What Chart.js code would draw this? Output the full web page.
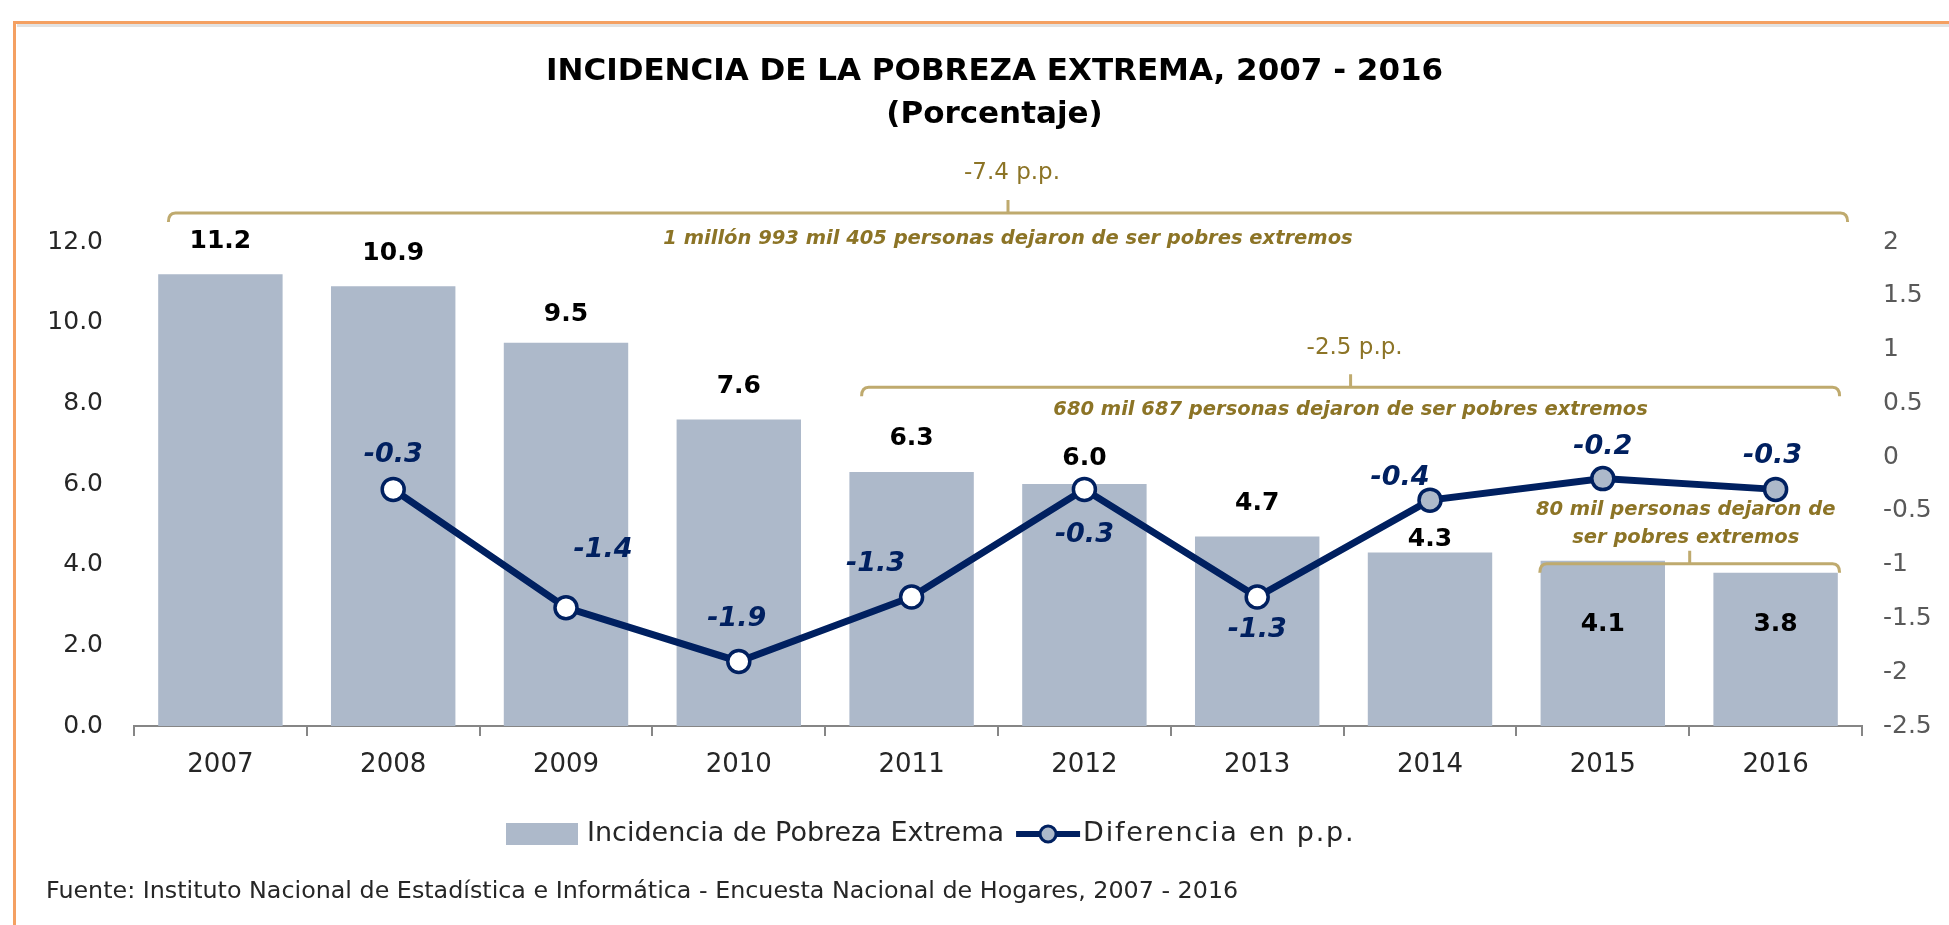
<!DOCTYPE html>
<html>
<head>
<meta charset="utf-8">
<script src="https://cdn.jsdelivr.net/npm/chart.js@4.4.1/dist/chart.umd.min.js"></script>
<style>
  body { margin: 0; background: #fff; }
  canvas { display: block; }
</style>
</head>
<body>
<canvas id="chart" width="1949" height="925"></canvas>
<script>
// data
const years = ['2007', '2008', '2009', '2010', '2011', '2012', '2013', '2014', '2015', '2016'];
const incidence = [11.2, 10.9, 9.5, 7.6, 6.3, 6.0, 4.7, 4.3, 4.1, 3.8];
const difference = [null, -0.3, -1.4, -1.9, -1.3, -0.3, -1.3, -0.4, -0.2, -0.3];
const leftTicks = [0, 2, 4, 6, 8, 10, 12];
const rightTicks = [-2.5, -2, -1.5, -1, -0.5, 0, 0.5, 1, 1.5, 2];
const spanLabels = ['-7.4 p.p.', '-2.5 p.p.'];
const spanNotes = [
    ['1 millón 993 mil 405 personas dejaron de ser pobres extremos'],
    ['680 mil 687 personas dejaron de ser pobres extremos'],
    ['80 mil personas dejaron de', 'ser pobres extremos']
];

const FONT = "'DejaVu Sans', sans-serif";
const BAR = '#ADB9CA';
const NAVY = '#002060';
const GOLD = '#8C7426';
const BRACE = '#BFAA6E';

// where the value labels sit relative to their mark (px)
const barLabelDy = [-33, -33, -28, -33, -33, -26, -33, -13, 64, 52];
const lineLabelOff = [[0, 0], [0, -34], [37, -58], [-2, -42], [-36, -33], [0, 46], [0, 33], [-30, -22], [0, -32], [-3, -33]];

// braces: category span, px overhang on each side, height on the left scale
const braces = [
    { from: 0, to: 9, dl: -52, dr: 72, y: 12.72, labelY: 13.71, noteY: [12.07] },
    { from: 4, to: 9, dl: -50, dr: 64, y: 8.4, labelY: 9.37, noteY: [7.84] },
    { from: 8, to: 9, dl: -63, dr: 64, y: 4.02, labelY: null, noteY: [5.36, 4.66] }
];

function drawBrace(ctx, x1, x2, y) {
    const mid = (x1 + x2) / 2;
    ctx.save();
    ctx.strokeStyle = BRACE;
    ctx.lineWidth = 3;
    ctx.beginPath();
    ctx.moveTo(x1, y + 9);
    ctx.quadraticCurveTo(x1, y, x1 + 7, y);
    ctx.lineTo(x2 - 7, y);
    ctx.quadraticCurveTo(x2, y, x2, y + 9);
    ctx.moveTo(mid, y);
    ctx.lineTo(mid, y - 13);
    ctx.stroke();
    ctx.restore();
}

const extras = {
    id: 'extras',
    afterDatasetsDraw(chart) {
        const ctx = chart.ctx;
        const x = chart.scales.x;
        const y = chart.scales.y;

        // bar values
        const bars = chart.getDatasetMeta(1).data;
        ctx.save();
        ctx.font = 'bold 25px ' + FONT;
        ctx.fillStyle = '#000';
        ctx.textAlign = 'center';
        ctx.textBaseline = 'middle';
        bars.forEach((b, i) => {
            ctx.fillText(incidence[i].toFixed(1), b.x, b.y + barLabelDy[i]);
        });

        // line values
        const pts = chart.getDatasetMeta(0).data;
        ctx.font = 'italic bold 27px ' + FONT;
        ctx.fillStyle = NAVY;
        pts.forEach((p, i) => {
            if (difference[i] === null) return;
            const o = lineLabelOff[i];
            ctx.fillText(difference[i].toFixed(1), p.x + o[0], p.y + o[1]);
        });

        // braces and their notes
        braces.forEach((br, k) => {
            const x1 = x.getPixelForValue(br.from) + br.dl;
            const x2 = x.getPixelForValue(br.to) + br.dr;
            const mid = (x1 + x2) / 2;
            drawBrace(ctx, x1, x2, y.getPixelForValue(br.y));
            ctx.fillStyle = GOLD;
            if (br.labelY !== null) {
                ctx.font = '23px ' + FONT;
                ctx.fillText(spanLabels[k], mid + 4, y.getPixelForValue(br.labelY));
            }
            ctx.font = 'italic bold 19.5px ' + FONT;
            spanNotes[k].forEach((line, j) => {
                ctx.fillText(line, mid - 4 * (k === 2), y.getPixelForValue(br.noteY[j]));
            });
        });
        ctx.restore();
    },
    afterDraw(chart) {
        const ctx = chart.ctx;
        ctx.save();
        // frame
        ctx.fillStyle = '#E2E2E2';
        ctx.fillRect(17, 24, 1932, 3);
        ctx.fillStyle = '#F4A062';
        ctx.fillRect(13, 21, 1936, 3);
        ctx.fillRect(13, 21, 3, 904);

        // legend
        ctx.textBaseline = 'middle';
        ctx.textAlign = 'left';
        ctx.font = '27px ' + FONT;
        ctx.fillStyle = BAR;
        ctx.fillRect(506, 823, 72, 22);
        ctx.fillStyle = '#262626';
        const t1 = chart.data.datasets[1].label;
        ctx.fillText(t1, 587, 834);
        const lx = 587 + ctx.measureText(t1).width + 12;
        ctx.strokeStyle = NAVY;
        ctx.lineWidth = 6;
        ctx.beginPath();
        ctx.moveTo(lx, 834);
        ctx.lineTo(lx + 64, 834);
        ctx.stroke();
        ctx.beginPath();
        ctx.arc(lx + 32, 834, 8, 0, Math.PI * 2);
        ctx.fillStyle = BAR;
        ctx.fill();
        ctx.lineWidth = 3;
        ctx.stroke();
        ctx.fillStyle = '#262626';
        ctx.letterSpacing = '1.8px';
        ctx.fillText(chart.data.datasets[0].label, lx + 67, 834);
        ctx.letterSpacing = '0px';

        // source
        ctx.font = '23.8px ' + FONT;
        ctx.fillText('Fuente: Instituto Nacional de Estadística e Informática - Encuesta Nacional de Hogares, 2007 - 2016', 46, 892);
        ctx.restore();
    }
};

const pointFill = difference.map((v, i) => i >= 7 ? BAR : '#FFFFFF');

new Chart(document.getElementById('chart'), {
    type: 'bar',
    data: {
        labels: years,
        datasets: [{
            type: 'line',
            label: 'Diferencia en p.p.',
            data: difference,
            yAxisID: 'y1',
            order: 1,
            borderColor: NAVY,
            borderWidth: 7,
            pointRadius: 11,
            pointBorderWidth: 3.5,
            pointBorderColor: NAVY,
            pointBackgroundColor: pointFill,
            tension: 0
        }, {
            label: 'Incidencia de Pobreza Extrema',
            data: incidence,
            yAxisID: 'y',
            order: 2,
            backgroundColor: BAR,
            barPercentage: 0.72,
            categoryPercentage: 1
        }]
    },
    options: {
        responsive: false,
        animation: false,
        layout: { padding: { top: 0, left: 40, right: 0, bottom: 129 } },
        plugins: {
            legend: { display: false },
            tooltip: { enabled: false },
            title: {
                display: true,
                text: 'INCIDENCIA DE LA POBREZA EXTREMA, 2007 - 2016',
                color: '#000',
                font: { family: FONT, size: 31, weight: 'bold' },
                padding: { top: 53, bottom: 0 }
            },
            subtitle: {
                display: true,
                text: '(Porcentaje)',
                color: '#000',
                font: { family: FONT, size: 31, weight: 'bold' },
                padding: { top: 6, bottom: 108.6 }
            }
        },
        scales: {
            x: {
                afterFit(s) { s.height = 70; },
                grid: { display: true, drawOnChartArea: false, drawTicks: true, tickLength: 10, color: '#868686', lineWidth: 2 },
                border: { display: true, color: '#868686', width: 2 },
                ticks: { color: '#262626', font: { family: FONT, size: 26 }, padding: 14 }
            },
            y: {
                position: 'left',
                min: 0,
                max: 12,
                afterFit(s) { s.width = 94; },
                afterBuildTicks(s) { s.ticks = leftTicks.map(v => ({ value: v })); },
                grid: { display: false },
                border: { display: false },
                ticks: {
                    color: '#262626',
                    font: { family: FONT, size: 25 },
                    padding: 23,
                    callback: v => v.toFixed(1)
                }
            },
            y1: {
                position: 'right',
                min: -2.5,
                max: 2,
                afterFit(s) { s.width = 87; },
                afterBuildTicks(s) { s.ticks = rightTicks.map(v => ({ value: v })); },
                grid: { display: false },
                border: { display: false },
                ticks: {
                    color: '#595959',
                    font: { family: FONT, size: 25 },
                    padding: 13,
                    callback: v => String(v)
                }
            }
        }
    },
    plugins: [extras]
});
</script>
</body>
</html>
